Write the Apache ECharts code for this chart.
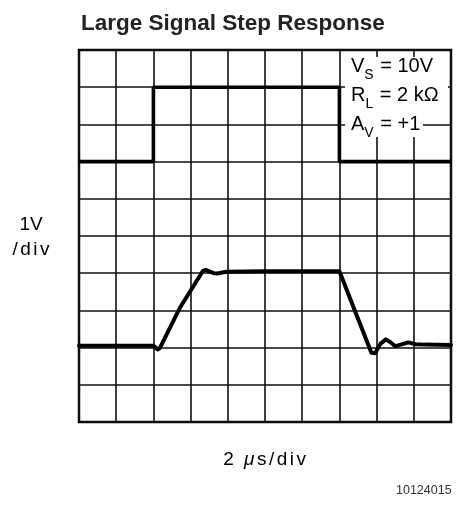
<!DOCTYPE html>
<html>
<head>
<meta charset="utf-8">
<script src="https://cdn.jsdelivr.net/npm/echarts@6/dist/echarts.min.js"></script>
<style>
  html, body { margin: 0; padding: 0; background: #fff; }
  #chart { width: 459px; height: 508px; }
</style>
</head>
<body>
<div id="chart"></div>
<script>
// Oscilloscope-style step response on a 10 x 10 division screen
// x in divisions (2 µs/div), y in divisions (1 V/div)
const xDivs = [0, 10];
const yDivs = [0, 10];

// Input square step (divisions)
const inputX = [0, 2, 2, 7, 7, 10];
const inputY = [7, 7, 9, 9, 7, 7];

// Output response (divisions)
const outputX = [0, 2.0, 2.06, 2.12, 2.18, 2.70, 3.33, 3.41, 3.50, 3.62, 3.72, 3.85, 3.97, 5.0, 7.0, 7.86, 7.90, 7.96, 8.10, 8.25, 8.36, 8.50, 8.65, 8.85, 9.05, 9.30, 10];
const outputY = [2.05, 2.05, 2.0, 1.95, 2.0, 3.05, 4.06, 4.09, 4.05, 4.0, 3.99, 4.02, 4.04, 4.05, 4.05, 1.86, 1.83, 1.85, 2.10, 2.22, 2.15, 2.04, 2.08, 2.14, 2.09, 2.08, 2.07];

// Annotation text
const titleText = 'Large Signal Step Response';
const yUnitLines = ['1V', '/div'];
const xUnitText = ['2 ', 'μ', 's/div'];
const figureId = '10124015';
const conditions = [
  ['V', 'S', ' = 10V'],
  ['R', 'L', ' = 2 kΩ'],
  ['A', 'V', ' = +1']
];

const pairs = (xs, ys) => xs.map((x, i) => [x, ys[i]]);

// Spread characters slightly apart using per-character rich tokens
const spaced = (str, style) => Array.from(str).map(ch => '{' + style + '|' + ch + '}').join('');

const labelFont = '"Liberation Sans", Arial, sans-serif';

const chart = echarts.init(document.getElementById('chart'), null, { renderer: 'canvas' });

const conditionTexts = conditions.map((c, i) => ({
  type: 'text', x: 351, y: 59 + i * 29, z: 20,
  style: {
    text: '{m|' + c[0] + '}{s|' + c[1] + '}{m|' + c[2] + '}',
    verticalAlign: 'top',
    rich: {
      m: { fontFamily: labelFont, fontSize: 20, fill: '#000', lineHeight: 15, height: 15, verticalAlign: 'top' },
      s: { fontFamily: labelFont, fontSize: 14, fill: '#000', lineHeight: 14, padding: [9, 1, 0, 0], verticalAlign: 'top' }
    }
  }
}));

chart.setOption({
  animation: false,
  backgroundColor: '#fff',
  grid: {
    left: 79, top: 50, width: 372, height: 372,
    show: true, borderColor: '#000', borderWidth: 2.5, backgroundColor: 'transparent'
  },
  xAxis: {
    type: 'value', min: xDivs[0], max: xDivs[1], interval: 1,
    axisLine: { show: false }, axisTick: { show: false }, axisLabel: { show: false },
    splitLine: { show: true, lineStyle: { color: '#111', width: 1.6 } }
  },
  yAxis: {
    type: 'value', min: yDivs[0], max: yDivs[1], interval: 1,
    axisLine: { show: false }, axisTick: { show: false }, axisLabel: { show: false },
    splitLine: { show: true, lineStyle: { color: '#111', width: 1.6 } }
  },
  series: [
    {
      name: 'Input', type: 'line', data: pairs(inputX, inputY),
      symbol: 'none', lineStyle: { color: '#000', width: 3.6 }, z: 3
    },
    {
      name: 'Output', type: 'line', data: pairs(outputX, outputY),
      symbol: 'none', smooth: false,
      lineStyle: { color: '#000', width: 4, join: 'round', cap: 'round' }, z: 3
    }
  ],
  graphic: [
    {
      type: 'text', x: 81, y: 24, z: 20,
      style: {
        text: titleText, verticalAlign: 'middle',
        font: 'bold 22.5px "Liberation Sans", Arial, sans-serif', fill: '#222'
      }
    },
    // white panel behind the test conditions
    { type: 'rect', z: 15, shape: { x: 345, y: 57, width: 103, height: 53 }, style: { fill: '#fff' } },
    { type: 'rect', z: 15, shape: { x: 345, y: 110, width: 78, height: 27 }, style: { fill: '#fff' } },
    ...conditionTexts,
    {
      type: 'text', x: 31, y: 225, z: 20,
      style: {
        text: yUnitLines[0], align: 'center', verticalAlign: 'middle',
        font: '19px "Liberation Sans", Arial, sans-serif', fill: '#000'
      }
    },
    {
      type: 'text', x: 31, y: 250, z: 20,
      style: {
        text: spaced(yUnitLines[1], 'c'), align: 'center', verticalAlign: 'middle',
        rich: { c: { fontFamily: labelFont, fontSize: 19, fill: '#000', padding: [0, 1.2] } }
      }
    },
    {
      type: 'text', x: 222, y: 460, z: 20,
      style: {
        text: spaced(xUnitText[0], 'c') + spaced(xUnitText[1], 'u') + spaced(xUnitText[2], 'c'),
        verticalAlign: 'middle',
        rich: {
          c: { fontFamily: labelFont, fontSize: 19, fill: '#000', padding: [0, 1.25] },
          u: { fontFamily: labelFont, fontSize: 19, fontStyle: 'italic', fill: '#000', padding: [0, 1.25] }
        }
      }
    },
    {
      type: 'text', x: 396, y: 491, z: 20,
      style: { text: figureId, verticalAlign: 'middle', font: '12.5px "Liberation Sans", Arial, sans-serif', fill: '#333' }
    }
  ]
});
</script>
</body>
</html>
